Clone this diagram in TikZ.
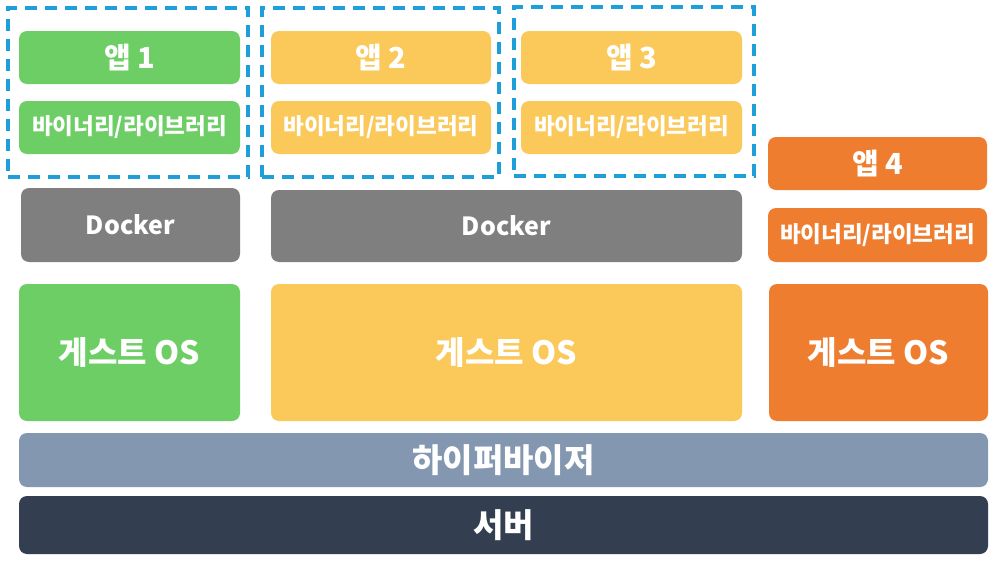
\documentclass[tikz,border=0pt]{standalone}
\usepackage{fontspec}
\setmainfont{Noto Sans CJK KR}
\definecolor{cgreen}{HTML}{6CCE64}
\definecolor{cyellow}{HTML}{FBC85A}
\definecolor{corange}{HTML}{EE7D30}
\definecolor{cgray}{HTML}{7F7F7F}
\definecolor{chyper}{HTML}{8398B0}
\definecolor{cserver}{HTML}{333F50}
\definecolor{cdash}{HTML}{1F9FD9}
\tikzset{
  blk/.style={rounded corners=8pt, inner sep=0pt, text=white, font=\bfseries, align=center},
  appbox/.style={blk, font=\bfseries\fontsize{29}{32}\selectfont},
  binbox/.style={blk, font=\bfseries\fontsize{22.5}{25}\selectfont},
  dockbox/.style={blk, fill=cgray, font=\bfseries\fontsize{25}{28}\selectfont},
  osbox/.style={blk, font=\bfseries\fontsize{32}{35}\selectfont},
  basebox/.style={blk, font=\bfseries\fontsize{33}{36}\selectfont},
  grp/.style={draw=cdash, line width=3.4pt, dash pattern=on 12pt off 8pt, inner sep=0pt},
}
\begin{document}
\begin{tikzpicture}[x=1pt,y=-1pt]
\fill[white] (0,0) rectangle (997,562);
\useasboundingbox (0,0) rectangle (997,562);
% group boxes
\node[grp, minimum width=240pt, minimum height=169pt] (g1) at (128,92.5) {};
\node[grp, minimum width=237pt, minimum height=169pt] (g2) at (380.5,92.5) {};
\node[grp, minimum width=240pt, minimum height=169pt] (g3) at (634,91.5) {};
% apps
\node[appbox, fill=cgreen, minimum width=221pt, minimum height=53pt] (app1) at (129.5,57.5) {앱 1};
\node[binbox, fill=cgreen, minimum width=221pt, minimum height=53pt] (bin1) at (129.5,127.5) {바이너리/라이브러리};
\node[appbox, fill=cyellow, minimum width=220pt, minimum height=53pt] (app2) at (381,57.5) {앱 2};
\node[binbox, fill=cyellow, minimum width=220pt, minimum height=53pt] (bin2) at (381,127.5) {바이너리/라이브러리};
\node[appbox, fill=cyellow, minimum width=221pt, minimum height=53pt] (app3) at (631.5,57.5) {앱 3};
\node[binbox, fill=cyellow, minimum width=221pt, minimum height=53pt] (bin3) at (631.5,127.5) {바이너리/라이브러리};
\node[appbox, fill=corange, minimum width=219pt, minimum height=53pt] (app4) at (877.5,163.5) {앱 4};
\node[binbox, fill=corange, minimum width=219pt, minimum height=54pt] (bin4) at (877.5,235) {바이너리/라이브러리};
% docker
\node[dockbox, minimum width=219pt, minimum height=74pt] (dock1) at (130.5,225) {Docker};
\node[dockbox, minimum width=471pt, minimum height=72pt] (dock2) at (506.5,226) {Docker};
% guest OS
\node[osbox, fill=cgreen, minimum width=221pt, minimum height=137pt] (os1) at (129.5,352.5) {게스트 OS};
\node[osbox, fill=cyellow, minimum width=471pt, minimum height=137pt] (os2) at (506.5,352.5) {게스트 OS};
\node[osbox, fill=corange, minimum width=219pt, minimum height=137pt] (os3) at (878.5,352.5) {게스트 OS};
% base
\node[basebox, fill=chyper, minimum width=969pt, minimum height=54pt] (hyper) at (503.5,460) {하이퍼바이저};
\node[basebox, fill=cserver, minimum width=969pt, minimum height=58pt] (server) at (503.5,525) {서버};
\end{tikzpicture}
\end{document}
